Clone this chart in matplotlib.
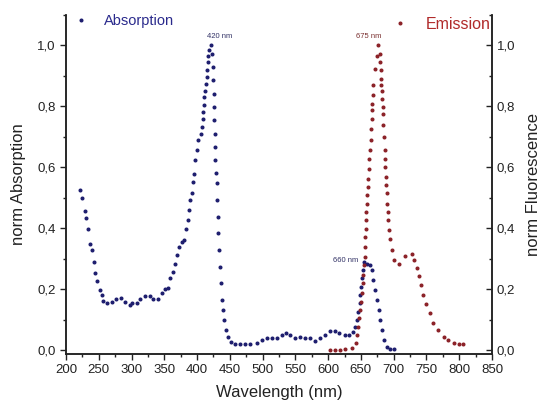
import matplotlib
matplotlib.use('Agg')
import matplotlib.pyplot as plt
from matplotlib.ticker import MultipleLocator, FuncFormatter
import numpy as np

plt.rcParams['font.family'] = ['Liberation Sans', 'DejaVu Sans']

# Absorption spectrum (norm.)
abs_wl = [221, 225, 229, 231, 234, 237, 239, 242, 244, 248, 252, 255, 257, 262,
          270, 277, 284, 290, 297, 300, 308, 313, 321, 328, 333, 341, 346, 351,
          356, 359, 364, 366, 370, 373, 377, 380, 383, 386, 388, 389, 392, 394,
          396, 397.5, 399.5, 402, 405.5, 407, 408.5, 409.5, 410.5, 411.2, 412.2,
          413.3, 414.5, 415, 416.3, 417.3, 418.8, 421, 423, 424, 425, 425.5, 426,
          426.5, 427, 427.5, 428, 428.5, 430, 431, 431.6, 432.5, 434, 435, 436,
          437.7, 439.2, 441.2, 444.3, 447.8, 451.5, 458, 466, 473, 481, 491, 499,
          506, 514, 522, 529, 536, 542, 550, 557, 565, 572, 580, 588, 595, 603,
          611, 617, 626, 632, 638, 641, 644, 646, 648, 649, 650, 651.5, 653, 655,
          659, 664, 667, 669, 672, 674, 677, 679.5, 682, 684.5, 689.5, 695, 700]
abs_val = [0.525, 0.499, 0.456, 0.435, 0.397, 0.348, 0.328, 0.290, 0.252, 0.226,
           0.197, 0.180, 0.162, 0.153, 0.158, 0.167, 0.170, 0.158, 0.148, 0.153,
           0.153, 0.167, 0.177, 0.177, 0.166, 0.167, 0.186, 0.202, 0.204, 0.235,
           0.257, 0.284, 0.311, 0.337, 0.355, 0.361, 0.397, 0.426, 0.459, 0.492,
           0.514, 0.552, 0.579, 0.623, 0.656, 0.689, 0.710, 0.732, 0.759, 0.781,
           0.803, 0.830, 0.852, 0.874, 0.896, 0.918, 0.945, 0.967, 0.984, 1.0,
           0.973, 0.929, 0.885, 0.842, 0.798, 0.754, 0.710, 0.667, 0.623, 0.580,
           0.547, 0.492, 0.437, 0.383, 0.328, 0.273, 0.219, 0.164, 0.131, 0.098,
           0.066, 0.044, 0.027, 0.020, 0.020, 0.020, 0.020, 0.024, 0.033, 0.040,
           0.040, 0.040, 0.049, 0.057, 0.049, 0.040, 0.044, 0.040, 0.038, 0.030,
           0.038, 0.051, 0.062, 0.062, 0.057, 0.049, 0.051, 0.060, 0.076, 0.098,
           0.126, 0.153, 0.180, 0.208, 0.235, 0.262, 0.290, 0.284, 0.279, 0.262,
           0.230, 0.197, 0.164, 0.131, 0.098, 0.066, 0.033, 0.011, 0.005, 0.002]

# Emission spectrum (norm.)
em_wl = [603, 611, 618, 626, 636, 642.7, 644.7, 646, 647.8, 649, 650.4, 651.5,
         652.5, 653, 654, 655.5, 656, 656.5, 657, 657.6, 658, 659, 660, 660.5,
         661.5, 662.6, 663, 664, 665, 665.6, 666.7, 666.9, 667.2, 667.7, 669,
         671.8, 673.9, 675.3, 679.4, 679.6, 680, 681, 681.3, 682, 682.3, 683,
         683.4, 684, 685, 686, 687, 687.3, 688, 688.5, 689.5, 690.5, 691, 692,
         693.6, 694.7, 697, 700.8, 708.8, 717.6, 727.7, 731, 735, 738, 741, 745,
         750, 755, 760, 768, 776, 783, 792, 800, 805]
em_val = [0.0, 0.0, 0.0, 0.002, 0.008, 0.024, 0.049, 0.076, 0.104, 0.131, 0.158,
          0.186, 0.219, 0.246, 0.279, 0.306, 0.339, 0.371, 0.399, 0.426, 0.453,
          0.481, 0.508, 0.535, 0.563, 0.596, 0.628, 0.656, 0.69, 0.725, 0.760,
          0.787, 0.809, 0.836, 0.869, 0.924, 0.967, 1.0, 0.973, 0.945, 0.918,
          0.891, 0.869, 0.852, 0.825, 0.798, 0.776, 0.740, 0.700, 0.656, 0.628,
          0.601, 0.568, 0.541, 0.514, 0.481, 0.453, 0.426, 0.393, 0.363, 0.330,
          0.297, 0.284, 0.308, 0.315, 0.295, 0.268, 0.244, 0.213, 0.180, 0.151,
          0.120, 0.090, 0.066, 0.044, 0.032, 0.024, 0.020, 0.020]

abs_color = '#1e1e6e'
em_color = '#8c2228'

fig = plt.figure(figsize=(5.45, 4.04), dpi=100)
ax = fig.add_axes([66/545, 1 - 354/404, 426/545, 339/404])
ax2 = ax.twinx()

l1, = ax.plot(abs_wl, abs_val, 'o', ms=1.9, color=abs_color, label='Absorption')
l2, = ax2.plot(em_wl, em_val, 'o', ms=1.9, color=em_color, label='Emission')

ax.set_xlim(200, 850)
for a in (ax, ax2):
    a.set_ylim(-0.013, 1.1)
    a.yaxis.set_major_locator(MultipleLocator(0.2))
    a.yaxis.set_minor_locator(MultipleLocator(0.1))
    a.yaxis.set_major_formatter(FuncFormatter(lambda v, p: f'{v:.1f}'.replace('.', ',')))
    a.spines['top'].set_visible(False)
    for s in a.spines.values():
        s.set_linewidth(1.1)
        s.set_color('#222222')
ax.xaxis.set_major_locator(MultipleLocator(50))
ax.xaxis.set_minor_locator(MultipleLocator(25))

ax.tick_params(which='both', direction='out', labelsize=9.5, colors='#222222', width=1)
ax.tick_params(which='major', length=4)
ax.tick_params(which='minor', length=2.5)
ax2.tick_params(which='both', direction='in', labelsize=9.5, colors='#222222', width=1)
ax2.tick_params(which='major', length=4)
ax2.tick_params(which='minor', length=2.5)

ax.set_xlabel('Wavelength (nm)', fontsize=12, color='#222222', labelpad=6)
ax.set_ylabel('norm Absorption', fontsize=12, color='#222222', labelpad=8)
ax2.set_ylabel('norm Fluorescence', fontsize=12, color='#222222', labelpad=8)

# peak labels
i = int(np.argmax(abs_val))
ax.annotate('420 nm', xy=(abs_wl[i], abs_val[i]), xytext=(-3, 4), textcoords='offset points',
            fontsize=5.5, color='#333366', ha='left', va='bottom')
j = int(np.argmax(em_val))
ax2.annotate('675 nm', xy=(em_wl[j], em_val[j]), xytext=(3, 4), textcoords='offset points',
             fontsize=5.5, color='#7a3030', ha='right', va='bottom')
k = abs_wl.index(655)
ax.annotate('660 nm', xy=(abs_wl[k], abs_val[k]), xytext=(-4, 1), textcoords='offset points',
            fontsize=5.5, color='#333366', ha='right', va='center')

ax.legend(handles=[l1], loc='upper left', bbox_to_anchor=(0.0, 1.02), frameon=False,
          handlelength=1.2, handletextpad=1.0, borderaxespad=0, numpoints=1,
          labelcolor='#2a2a8c', prop={'size': 10.5})
ax2.legend(handles=[l2], loc='upper right', bbox_to_anchor=(1.0, 1.0), frameon=False,
           handlelength=1.2, handletextpad=1.0, borderaxespad=0, borderpad=0.1, numpoints=1,
           labelcolor='#b02a2a', prop={'size': 11.5})

plt.savefig('out.png', dpi=100)
